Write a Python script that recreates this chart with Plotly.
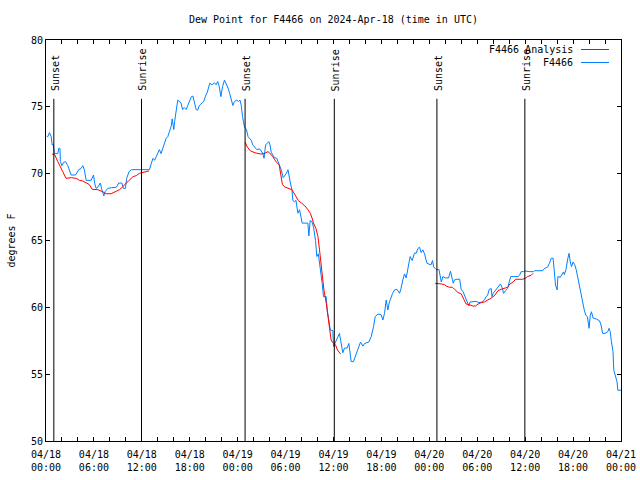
import pandas as pd
import plotly.graph_objects as go

BASE = pd.Timestamp("2024-04-18 00:00")

# Observed dew point (F4466): hours since 04/18 00:00 UTC, degrees F
obs_hours = [0.1, 0.23, 0.44, 0.65, 0.77, 0.9, 1.06, 1.48, 1.6, 1.75, 1.8, 2.0, 2.2, 2.44, 2.73, 3.15, 3.7,
             4.1, 4.4, 4.6, 4.8, 5.03, 5.65, 5.95, 6.1, 6.28, 6.5, 6.8, 7.0, 7.24, 7.4, 7.74, 8.2, 8.8, 9.12,
             9.5, 9.7, 9.95, 10.1, 10.4, 10.7, 12.96, 13.2, 13.4, 13.6, 13.9, 14.2, 14.4, 14.6, 14.8, 15.05,
             15.25, 15.5, 15.7, 15.8, 16.0, 16.1, 16.3, 16.5, 16.9, 17.1, 17.3, 17.55, 17.75, 18.2, 18.4, 18.6,
             18.8, 19.0, 19.2, 19.55, 19.75, 19.97, 20.2, 20.5, 20.8, 21.1, 21.3, 21.5, 21.7, 21.9, 22.1, 22.35,
             22.55, 22.8, 23.0, 23.2, 23.4, 23.6, 23.9, 24.1, 24.3, 24.45, 24.6, 24.85, 25.1, 25.3, 25.5, 25.7,
             25.9, 26.1, 26.4, 26.7, 26.9, 27.15, 27.3, 27.5, 27.7, 27.9, 28.05, 28.2, 28.4, 28.6, 28.9, 29.2,
             29.45, 29.7, 29.9, 30.1, 30.3, 30.45, 30.6, 30.8, 30.91, 31.1, 31.3, 31.54, 31.75, 32.08, 32.79,
             32.91, 33.08, 33.3, 33.5, 33.75, 33.91, 34.1, 34.33, 34.58, 34.75, 35.08, 35.21, 35.33, 35.5, 35.6,
             35.92, 36.0, 36.25, 36.54, 36.75, 36.9, 37.17, 37.38, 37.7, 37.92, 38.05, 38.21, 38.5, 38.75, 39.05,
             39.38, 39.68, 39.9, 40.42, 40.72, 41.01, 41.22, 41.55, 41.97, 42.18, 42.39, 42.6, 42.8, 43.0, 43.22,
             43.4, 43.64, 43.95, 44.27, 44.45, 44.68, 44.89, 45.1, 45.39, 45.6, 45.85, 46.14, 46.35, 46.56, 46.77,
             46.98, 47.19, 47.4, 47.7, 48.0, 48.2, 48.4, 48.55, 48.77, 48.95, 49.2, 49.4, 49.5, 49.7, 50.0, 50.4,
             50.65, 50.9, 51.0, 51.15, 51.45, 51.8, 52.0, 52.2, 52.4, 52.6, 52.8, 52.95, 53.1, 53.45, 53.85, 54.2,
             54.6, 54.9, 55.1, 55.3, 55.5, 55.75, 55.85, 56.0, 56.3, 56.45, 56.7, 56.9, 57.1, 57.3, 57.55, 57.8,
             58.0, 58.2, 58.5, 58.8, 59.1, 59.3, 59.5, 59.8, 60.0, 60.5, 61.05, 61.2, 61.8, 62.2, 62.4, 62.8,
             63.05, 63.25, 63.5, 63.6, 63.8, 64.0, 64.1, 64.4, 64.6, 64.8, 64.9, 65.1, 65.35, 65.5, 65.65, 65.8,
             66.0, 66.2, 66.4, 66.6, 66.8, 67.0, 67.2, 67.4, 67.6, 67.8, 68.0, 68.15, 68.3, 68.5, 68.9, 69.3,
             69.5, 69.7, 70.0, 70.35, 70.5, 70.65, 70.8, 71.0, 71.1, 71.3, 71.5, 71.6, 72.0]
obs_values = [72.8, 72.77, 73.07, 72.77, 72.15, 72.2, 71.5, 71.5, 71.9, 71.9, 70.9, 70.6, 70.85, 70.9, 70.6, 69.9, 69.9,
              70.3, 70.4, 70.6, 70.3, 69.5, 69.5, 69.9, 69.25, 68.9, 69.0, 69.3, 68.8, 68.33, 68.65, 68.9, 68.95, 68.98, 69.3,
              69.3, 68.9, 68.9, 69.65, 70.15, 70.3, 70.3, 70.8, 71.15, 71.0, 71.4, 71.8, 71.5, 71.9, 72.3, 72.65,
              72.77, 73.3, 73.6, 74.1, 73.3, 73.9, 74.8, 75.5, 75.3, 74.8, 74.95, 74.8, 75.1, 75.76, 75.8, 75.25,
              74.8, 74.75, 75.1, 75.3, 75.4, 75.8, 76.1, 76.76, 76.65, 76.8, 76.65, 76.9, 76.5, 75.76, 76.5, 77.0,
              76.76, 76.4, 76.0, 75.6, 75.1, 75.4, 75.5, 75.4, 75.5, 75.1, 74.3, 73.5, 73.3, 72.77, 72.65, 72.5,
              72.15, 72.0, 71.8, 71.85, 71.75, 71.5, 71.15, 72.15, 72.25, 72.4, 72.15, 71.6, 71.4, 71.2, 71.15, 70.65,
              70.3, 69.7, 69.85, 70.03, 70.3, 69.7, 69.3, 68.8, 68.0, 67.9, 68.0, 67.04, 67.3, 66.3, 66.3,
              65.34, 66.5, 66.4, 66.0, 65.0, 63.8, 64.0, 63.05, 61.8, 60.8, 60.8, 59.8, 59.3, 58.7, 58.3,
              58.26, 57.06, 57.4, 57.8, 58.05, 57.5, 56.6, 56.95, 56.95, 57.3, 56.7, 55.94, 55.94, 56.4, 56.95,
              57.4, 57.1, 57.3, 57.4, 57.8, 58.55, 59.3, 59.5, 59.45, 59.05, 59.55, 60.55, 59.8, 60.4, 60.8,
              61.05, 61.3, 61.35, 61.05, 61.4, 62.05, 62.5, 62.2, 63.2, 63.8, 63.5, 64.05, 64.05, 64.4, 64.5,
              64.1, 64.3, 64.0, 63.3, 63.2, 63.17, 63.5, 63.0, 62.9, 62.8, 62.85, 62.17, 61.9, 62.3, 62.2, 62.2,
              62.7, 62.05, 61.8, 62.05, 62.1, 62.1, 61.3, 61.2, 60.9, 60.55, 60.3, 60.1, 60.4, 60.4, 60.45, 60.35,
              60.4, 60.55, 60.8, 60.9, 61.35, 61.4, 60.8, 61.05, 61.3, 61.4, 61.65, 61.75, 61.5, 61.05, 61.25, 61.4,
              61.9, 62.3, 62.3, 62.3, 62.3, 62.4, 62.67, 62.67, 62.72, 62.67, 62.67, 62.74, 62.74, 62.74, 62.9, 63.0,
              63.3, 63.67, 63.67, 62.8, 61.67, 61.3, 62.3, 62.25, 62.5, 62.65, 62.45, 62.8, 63.67, 64.04, 63.4, 63.04,
              63.4, 63.2, 62.8, 62.17, 61.8, 61.17, 60.4, 59.8, 59.4, 59.3, 58.43, 59.4, 59.67, 59.2, 59.13, 59.0,
              58.68, 58.05, 58.05, 58.18, 58.43, 58.18, 57.43, 56.68, 55.3, 54.94, 54.44, 53.8, 53.8]

# Analysis (three night-time segments)
ana1_hours = [0.77, 1.1, 1.48, 1.77, 2.1, 2.5, 3.15, 3.78, 4.2, 4.6, 5.03, 5.4, 5.78, 6.5, 7.1, 7.53, 8.16,
              8.7, 9.2, 9.62, 10.0, 10.4, 10.9, 11.3, 11.7, 12.1, 12.5, 12.9]
ana1_values = [71.47, 71.4, 70.9, 70.5, 70.15, 69.65, 69.7, 69.65, 69.5, 69.45, 69.3, 69.2, 68.83, 68.8, 68.65, 68.5, 68.5,
               68.65, 68.8, 69.03, 69.3, 69.5, 69.78, 69.85, 70.03, 70.1, 70.15, 70.2]
ana2_hours = [24.94, 25.2, 25.6, 26.25, 26.9, 27.3, 27.8, 28.0, 28.4, 28.8, 29.2, 29.4, 29.6, 29.9, 30.5, 30.8,
              31.2, 31.6, 32.0, 32.4, 32.8, 33.1, 33.3, 33.5, 33.8, 34.05, 34.25, 34.4, 34.6, 34.8, 35.1, 35.3,
              35.5, 35.7, 35.9, 36.25, 36.5, 36.9]
ana2_values = [72.35, 72.0, 71.7, 71.55, 71.47, 71.5, 71.65, 71.55, 71.27, 70.9, 70.65, 70.03, 69.2, 69.0, 68.9, 68.8,
               68.4, 67.98, 67.8, 67.6, 67.3, 67.04, 66.7, 66.3, 65.9, 65.3, 64.3, 63.55, 62.3, 61.3, 60.3, 59.4,
               58.4, 57.56, 57.36, 57.2, 56.8, 56.5]
ana3_hours = [48.73, 49.2, 49.5, 49.9, 50.1, 50.5, 50.9, 51.15, 51.6, 52.0, 52.2, 52.4, 52.6, 53.0, 53.45, 53.8,
              54.1, 54.5, 54.9, 55.3, 55.7, 56.2, 56.6, 57.0, 57.4, 57.8, 58.1, 58.5, 58.8, 59.3, 59.7, 60.0,
              60.3, 60.75, 61.0]
ana3_values = [61.8, 61.8, 61.75, 61.7, 61.6, 61.5, 61.5, 61.35, 61.1, 61.0, 60.75, 60.4, 60.25, 60.2, 60.1, 60.1,
               60.25, 60.35, 60.4, 60.55, 60.67, 60.9, 61.25, 61.35, 61.4, 61.5, 61.75, 61.9, 62.1, 62.1, 62.1, 62.17,
               62.3, 62.4, 62.55]

# Sun events (hours since start)
sun_event_hours = [0.98, 11.96, 24.93, 36.1, 48.95, 59.96]
sun_event_labels = ["Sunset", "Sunrise", "Sunset", "Sunrise", "Sunset", "Sunrise"]

tick_hours = list(range(0, 73, 2))
tick_labels = ["04/18<br>00:00", "04/18<br>06:00", "04/18<br>12:00", "04/18<br>18:00",
               "04/19<br>00:00", "04/19<br>06:00", "04/19<br>12:00", "04/19<br>18:00",
               "04/20<br>00:00", "04/20<br>06:00", "04/20<br>12:00", "04/20<br>18:00", "04/21<br>00:00"]

FONT = "DejaVu Sans Mono"
RED = "#ff0000"
BLUE = "#0080ff"


def to_time(hours):
    return [BASE + pd.Timedelta(hours=h) for h in hours]


ana_x = to_time(ana1_hours) + [None] + to_time(ana2_hours) + [None] + to_time(ana3_hours)
ana_y = ana1_values + [None] + ana2_values + [None] + ana3_values

fig = go.Figure()
fig.add_trace(go.Scatter(x=to_time(obs_hours), y=obs_values, mode="lines", name="F4466",
                         line=dict(color=BLUE, width=1), showlegend=False))
fig.add_trace(go.Scatter(x=ana_x, y=ana_y, mode="lines", name="F4466 Analysis",
                         line=dict(color=RED, width=1), connectgaps=False, showlegend=False))

for h, lab in zip(sun_event_hours, sun_event_labels):
    t = BASE + pd.Timedelta(hours=h)
    fig.add_shape(type="line", xref="x", yref="y", x0=t, x1=t, y0=50, y1=75.6,
                  line=dict(color="black", width=1))
    fig.add_annotation(x=t, y=76.1, xref="x", yref="y", text=lab, textangle=-90,
                       showarrow=False, xanchor="center", yanchor="bottom", xshift=1,
                       font=dict(family=FONT, size=10, color="black"), borderpad=0)

# legend drawn gnuplot-style (text then sample line)
legend_items = [("F4466 Analysis", RED, 0.9763), ("F4466", BLUE, 0.9439)]
for txt, col, yy in legend_items:
    fig.add_annotation(x=0.9183, y=yy, xref="paper", yref="paper", text=txt, showarrow=False,
                       xanchor="right", yanchor="middle", font=dict(family=FONT, size=10, color="black"),
                       borderpad=0)
    fig.add_shape(type="line", xref="paper", yref="paper", x0=0.9304, x1=0.9791, y0=yy, y1=yy,
                  line=dict(color=col, width=1))

tick_text = []
for h in tick_hours:
    tick_text.append(tick_labels[h // 6] if h % 6 == 0 else "")

fig.update_layout(
    width=640, height=480,
    margin=dict(l=46, r=19, t=40, b=39, pad=0, autoexpand=False),
    paper_bgcolor="white", plot_bgcolor="white",
    font=dict(family=FONT, size=10, color="black"),
    title=dict(text="Dew Point for F4466 on 2024-Apr-18 (time in UTC)", x=0.5, xref="paper",
               y=1 - 19 / 480, yref="container", yanchor="middle", xanchor="center",
               font=dict(family=FONT, size=10, color="black")),
    xaxis=dict(range=[BASE, BASE + pd.Timedelta(hours=72)], tickmode="array", automargin=False,
               tickvals=to_time(tick_hours), ticktext=tick_text, ticks="inside", ticklen=4,
               tickcolor="black", showline=True, linecolor="black", linewidth=1, mirror="ticks",
               showgrid=False, zeroline=False, tickangle=0, ticklabelstandoff=4,
               tickfont=dict(family=FONT, size=10)),
    yaxis=dict(range=[50, 80], tickmode="linear", tick0=50, dtick=5, ticks="inside", ticklen=4,
               tickcolor="black", showline=True, linecolor="black", linewidth=1, mirror="ticks",
               showgrid=False, zeroline=False, tickfont=dict(family=FONT, size=10), automargin=False,
               title=dict(text="degrees F", standoff=13, font=dict(family=FONT, size=10))),
)

fig.write_html("out.html")
